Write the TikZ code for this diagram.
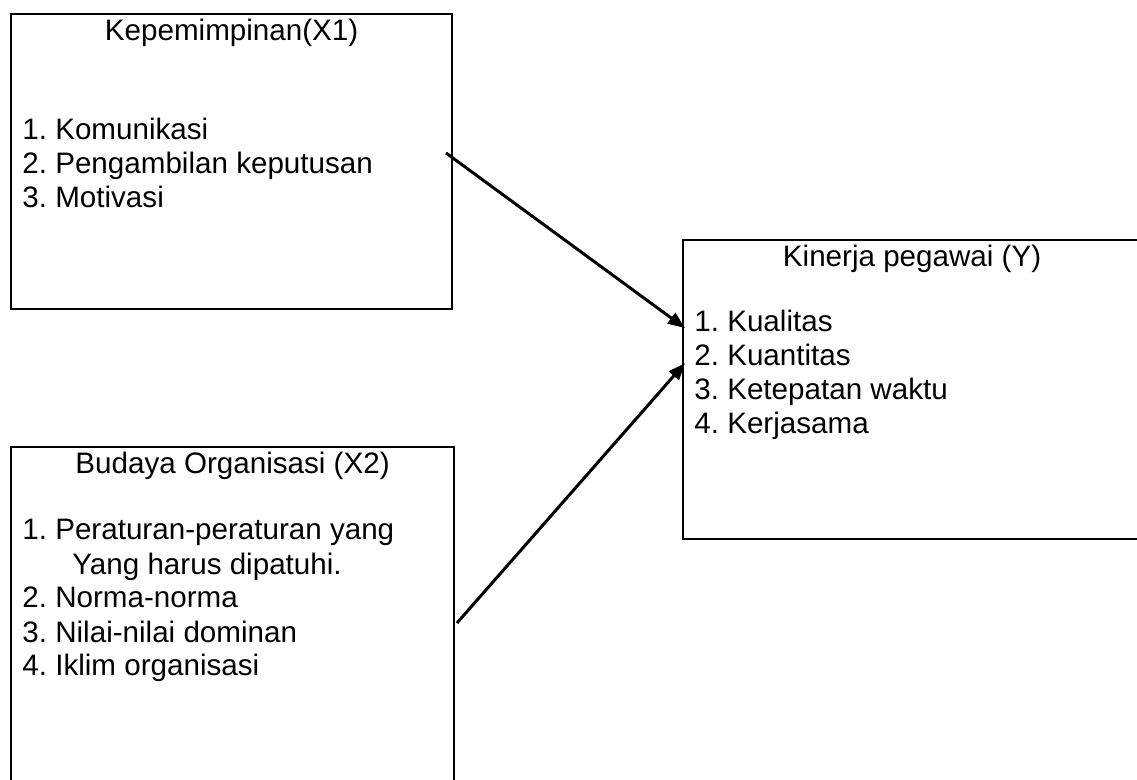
\documentclass[tikz,border=0pt]{standalone}
\usepackage{fontspec}
\setmainfont{Liberation Sans}
\usetikzlibrary{arrows.meta,calc}
\frenchspacing

\begin{document}
\begin{tikzpicture}[x=0.5pt, y=-0.5pt,
		kotak/.style={draw, line width=1.1pt, rectangle, inner sep=0pt, anchor=north west},
		judul/.style={anchor=base, inner sep=0pt, font=\fontsize{14.8}{17}\selectfont},
		daftar/.style={anchor=base west, inner sep=0pt, align=left, font=\fontsize{14.8}{17}\selectfont},
		panah/.style={-{Triangle[length=8.5pt, width=6.5pt]}, line width=1.5pt}]
			\useasboundingbox (0,0) rectangle (1137,780);
			% kotak variabel
			\node[kotak, minimum width=220.5pt, minimum height=147.5pt] (kep) at (10,13) {};
			\node[kotak, minimum width=229pt, minimum height=149.5pt] (kin) at (682,239) {};
			\node[kotak, minimum width=221.5pt, minimum height=172pt] (bud) at (10,446) {};
			% judul
			\node[judul] (kepjudul) at ($(kep.north)+(0,28)$) {Kepemimpinan(X1)};
			\node[judul] (kinjudul) at ($(kin.north)+(0,28)$) {Kinerja pegawai (Y)};
			\node[judul] (budjudul) at ($(bud.north)+(0,28)$) {Budaya Organisasi (X2)};
			% indikator (anchor pada baris terakhir)
			\node[daftar] (kepisi) at (22,208) {1. Komunikasi\\2. Pengambilan keputusan\\3. Motivasi};
			\node[daftar] (kinisi) at (694,434) {1. Kualitas\\2. Kuantitas\\3. Ketepatan waktu\\4. Kerjasama};
			\node[daftar] (budisi) at (22,676) {1. Peraturan-peraturan yang\\\hspace*{25pt}Yang harus dipatuhi.\\2. Norma-norma\\3. Nilai-nilai dominan\\4. Iklim organisasi};
			% panah
			\coordinate (p1) at (446,153);
			\coordinate (p2) at (457,623);
			\draw[panah] (p1) -- ($(kin.west)+(3,-61.5)$);
			\draw[panah] (p2) -- ($(kin.west)+(3,-26.5)$);
		\end{tikzpicture}
\end{document}
